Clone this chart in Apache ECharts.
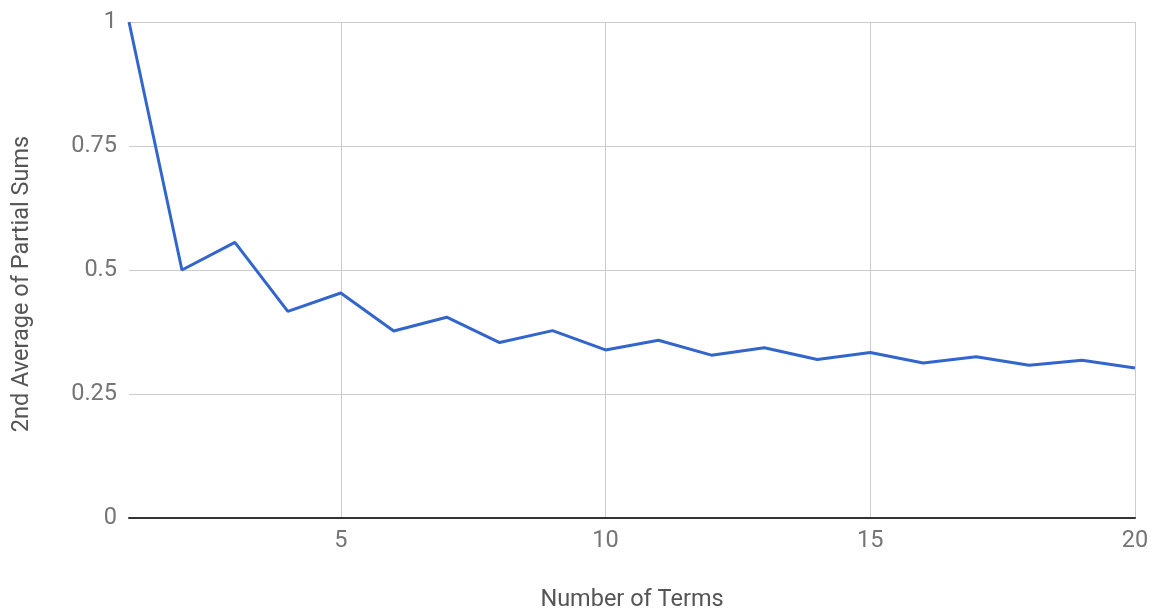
<!DOCTYPE html>
<html>
<head>
<meta charset="utf-8">
<title>2nd Average of Partial Sums</title>
<script src="https://cdn.jsdelivr.net/npm/echarts@6/dist/echarts.min.js"></script>
<style>
  html, body { margin: 0; padding: 0; background: #ffffff; }
  #chart { width: 1154px; height: 612px; }
</style>
</head>
<body>
<div id="chart"></div>
<script>
// Number of terms (x) and the second average of the partial sums (y)
const terms = [1, 2, 3, 4, 5, 6, 7, 8, 9, 10, 11, 12, 13, 14, 15, 16, 17, 18, 19, 20];
const secondAverage = [1, 0.5, 0.5556, 0.4167, 0.4536, 0.377, 0.4048, 0.3537, 0.3778, 0.3389,
  0.3585, 0.3283, 0.3432, 0.3195, 0.3337, 0.3125, 0.3249, 0.3079, 0.318, 0.3026];
const xTicks = [5, 10, 15, 20];
const yTicks = [0, 0.25, 0.5, 0.75, 1];

const labelColor = '#757575';
const titleColor = '#555555';
const gridColor = '#cccccc';
const fontFamily = 'Roboto, "Noto Sans", sans-serif';
const fontSize = 23.5;

const chart = echarts.init(document.getElementById('chart'), null, { renderer: 'canvas' });
chart.setOption({
  animation: false,
  backgroundColor: '#ffffff',
  grid: { left: 129, right: 19, top: 22, bottom: 94, containLabel: false, outerBoundsMode: 'none' },
  xAxis: {
    type: 'value',
    min: terms[0],
    max: terms[terms.length - 1],
    name: 'Number of Terms',
    nameLocation: 'middle',
    nameGap: 70,
    nameTextStyle: { color: titleColor, fontSize: fontSize, fontFamily: fontFamily },
    axisLine: { show: true, onZero: false, lineStyle: { color: '#333333', width: 2 } },
    axisTick: { show: false, customValues: xTicks },
    axisLabel: { customValues: xTicks, color: labelColor, fontSize: fontSize, fontFamily: fontFamily, margin: 11 },
    splitLine: { show: true, lineStyle: { color: gridColor, width: 1 } }
  },
  yAxis: {
    type: 'value',
    min: yTicks[0],
    max: yTicks[yTicks.length - 1],
    interval: 0.25,
    name: '2nd Average of Partial Sums',
    nameLocation: 'middle',
    nameGap: 95,
    nameTextStyle: { color: titleColor, fontSize: fontSize, fontFamily: fontFamily, padding: [0, 28, 0, 0] },
    axisLine: { show: false },
    axisTick: { show: false },
    axisLabel: { color: labelColor, fontSize: fontSize, fontFamily: fontFamily, margin: 12 },
    splitLine: { show: true, lineStyle: { color: gridColor, width: 1 } }
  },
  series: [{
    type: 'line',
    data: terms.map((t, i) => [t, secondAverage[i]]),
    showSymbol: false,
    symbol: 'none',
    lineStyle: { color: '#3366cc', width: 3 },
    z: 3
  }]
});
</script>
</body>
</html>
